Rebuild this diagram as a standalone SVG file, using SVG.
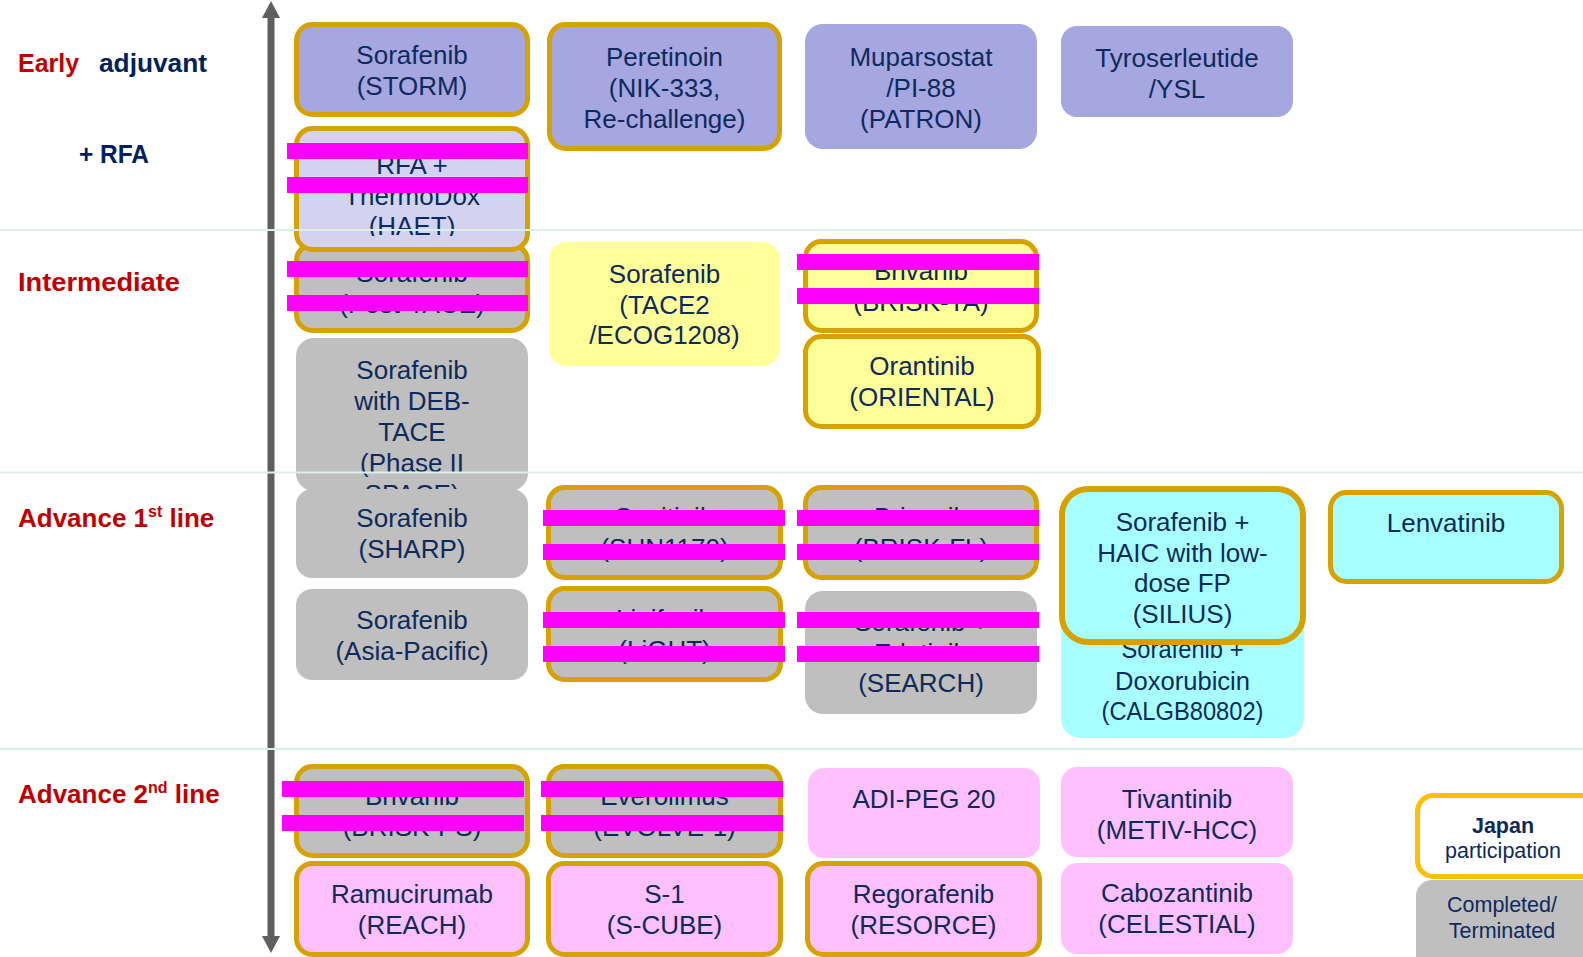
<svg xmlns="http://www.w3.org/2000/svg" width="1583" height="957" viewBox="0 0 1583 957">
<style>
.t{font-family:"Liberation Sans",Arial,sans-serif;font-size:26px;fill:#0e2a5c;text-anchor:middle}
.lab{font-family:"Liberation Sans",Arial,sans-serif;font-size:26px;font-weight:bold}
.red{fill:#c00000}
.navy{fill:#002060}
.b{stroke:#d6a200;stroke-width:5}
.lav{fill:#a6a6e0}
.llav{fill:#d3d3f1}
.gray{fill:#bfbfbf}
.yel{fill:#ffff99}
.cyan{fill:#a8ffff}
.pink{fill:#ffc0ff}
.bar{fill:#ff00ff}
.sep{stroke:#daeeee;stroke-width:2}
.leg{font-family:"Liberation Sans",Arial,sans-serif;font-size:21.5px;fill:#0e2a5c;text-anchor:middle}
</style>
<defs>
<marker id="ah" markerUnits="userSpaceOnUse" markerWidth="17" markerHeight="18" refX="2" refY="9" orient="auto-start-reverse">
<path d="M0,0 L17,9 L0,18 z" fill="#5f5f5f"/>
</marker>
<clipPath id="debclip"><rect x="296" y="338" width="232" height="151"/></clipPath>
<clipPath id="haetclip"><rect x="294" y="126" width="236" height="110"/></clipPath>
</defs>
<rect width="1583" height="957" fill="#ffffff"/>

<g id="labels">
<text class="lab red" x="18" y="72" textLength="61" lengthAdjust="spacingAndGlyphs">Early</text>
<text class="lab navy" x="99" y="72" textLength="108" lengthAdjust="spacingAndGlyphs">adjuvant</text>
<text class="lab navy" x="79" y="163" textLength="70" lengthAdjust="spacingAndGlyphs">+ RFA</text>
<text class="lab red" x="18" y="291" textLength="162" lengthAdjust="spacingAndGlyphs">Intermediate</text>
<text class="lab red" x="18" y="527">Advance 1<tspan font-size="16" dy="-10">st</tspan><tspan dy="10"> line</tspan></text>
<text class="lab red" x="18" y="803">Advance 2<tspan font-size="16" dy="-10">nd</tspan><tspan dy="10"> line</tspan></text>
</g>

<g id="storm"><rect class="lav b" x="296.5" y="24.5" width="231" height="90" rx="16"/>
<text class="t" x="412" y="64">Sorafenib</text><text class="t" x="412" y="95">(STORM)</text></g>

<g id="peretinoin"><rect class="lav b" x="549.5" y="24.5" width="230" height="124" rx="16"/>
<text class="t" x="664.5" y="66">Peretinoin</text><text class="t" x="664.5" y="97">(NIK-333,</text><text class="t" x="664.5" y="127.5">Re-challenge)</text></g>

<g id="muparsostat"><rect class="lav" x="805" y="24" width="232" height="125" rx="18"/>
<text class="t" x="921" y="66">Muparsostat</text><text class="t" x="921" y="97">/PI-88</text><text class="t" x="921" y="127.5">(PATRON)</text></g>

<g id="tyroserleutide"><rect class="lav" x="1061" y="26" width="232" height="91" rx="16"/>
<text class="t" x="1177" y="67">Tyroserleutide</text><text class="t" x="1177" y="97.5">/YSL</text></g>

<g id="posttace"><rect class="gray b" x="296.5" y="244.5" width="231" height="86" rx="16"/>
<text class="t" x="412" y="282">Sorafenib</text><text class="t" x="412" y="313">(Post-TACE)</text></g>

<g id="haet"><rect class="llav b" x="296.5" y="128.5" width="231" height="121" rx="16"/>
<g clip-path="url(#haetclip)"><text class="t" x="412" y="174">RFA +</text><text class="t" x="412" y="204.5">ThermoDox</text><text class="t" x="412" y="235">(HAET)</text></g></g>

<g id="tace2"><rect class="yel" x="549" y="242" width="231" height="124" rx="18"/>
<text class="t" x="664.5" y="283">Sorafenib</text><text class="t" x="664.5" y="313.5">(TACE2</text><text class="t" x="664.5" y="344">/ECOG1208)</text></g>

<g id="brisk-ta"><rect class="yel b" x="805.5" y="241.5" width="231" height="89" rx="16"/>
<text class="t" x="921" y="280">Brivanib</text><text class="t" x="921" y="311">(BRISK-TA)</text></g>

<g id="oriental"><rect class="yel b" x="805.5" y="336.5" width="233" height="90" rx="16"/>
<text class="t" x="922" y="375">Orantinib</text><text class="t" x="922" y="406">(ORIENTAL)</text></g>

<g id="debtace"><rect class="gray" x="296" y="338" width="232" height="153" rx="18"/>
<g clip-path="url(#debclip)"><text class="t" x="412" y="379">Sorafenib</text><text class="t" x="412" y="410">with DEB-</text><text class="t" x="412" y="441">TACE</text><text class="t" x="412" y="472">(Phase II</text><text class="t" x="412" y="503">SPACE)</text></g></g>

<g id="sharp"><rect class="gray" x="296" y="489" width="232" height="89" rx="16"/>
<text class="t" x="412" y="527">Sorafenib</text><text class="t" x="412" y="558">(SHARP)</text></g>

<g id="asiapacific"><rect class="gray" x="296" y="589" width="232" height="91" rx="16"/>
<text class="t" x="412" y="628.5">Sorafenib</text><text class="t" x="412" y="659.5">(Asia-Pacific)</text></g>

<g id="sun1170"><rect class="gray b" x="548.5" y="487.5" width="232" height="90" rx="16"/>
<text class="t" x="664.5" y="526">Sunitinib</text><text class="t" x="664.5" y="557">(SUN1170)</text></g>

<g id="light"><rect class="gray b" x="548.5" y="588.5" width="232" height="91" rx="16"/>
<text class="t" x="664.5" y="627.5">Linifanib</text><text class="t" x="664.5" y="658.5">(LiGHT)</text></g>

<g id="brisk-fl"><rect class="gray b" x="805.5" y="487.5" width="231" height="90" rx="16"/>
<text class="t" x="921" y="526">Brivanib</text><text class="t" x="921" y="557">(BRISK-FL)</text></g>

<g id="search"><rect class="gray" x="805" y="591" width="232" height="123" rx="18"/>
<text class="t" x="921" y="631">Sorafenib +</text><text class="t" x="921" y="661.5">Erlotinib</text><text class="t" x="921" y="692">(SEARCH)</text></g>

<g id="calgb"><rect class="cyan" x="1061" y="600" width="243" height="138" rx="20"/>
<text class="t" x="1182.5" y="658" textLength="122" lengthAdjust="spacingAndGlyphs">Sorafenib +</text><text class="t" x="1182.5" y="689.5" textLength="135" lengthAdjust="spacingAndGlyphs">Doxorubicin</text><text class="t" x="1182.5" y="720" textLength="162" lengthAdjust="spacingAndGlyphs">(CALGB80802)</text></g>

<g id="silius"><rect class="cyan" x="1062" y="489" width="241" height="153" rx="26" stroke="#d6a200" stroke-width="6"/>
<text class="t" x="1182.5" y="531">Sorafenib +</text><text class="t" x="1182.5" y="561.5">HAIC with low-</text><text class="t" x="1182.5" y="592">dose FP</text><text class="t" x="1182.5" y="622.5">(SILIUS)</text></g>

<g id="lenvatinib"><rect class="cyan b" x="1330.5" y="492.5" width="231" height="89" rx="16"/>
<text class="t" x="1446" y="532">Lenvatinib</text></g>

<g id="brisk-ps"><rect class="gray b" x="296.5" y="766.5" width="231" height="89" rx="16"/>
<text class="t" x="412" y="805">Brivanib</text><text class="t" x="412" y="835.5">(BRISK-PS)</text></g>

<g id="evolve1"><rect class="gray b" x="548.5" y="766.5" width="232" height="89" rx="16"/>
<text class="t" x="664.5" y="805">Everolimus</text><text class="t" x="664.5" y="835.5">(EVOLVE-1)</text></g>

<g id="adipeg"><rect class="pink" x="808" y="768" width="232" height="90" rx="16"/>
<text class="t" x="924" y="808">ADI-PEG 20</text></g>

<g id="tivantinib"><rect class="pink" x="1061" y="767" width="232" height="90" rx="16"/>
<text class="t" x="1177" y="807.5">Tivantinib</text><text class="t" x="1177" y="838.5">(METIV-HCC)</text></g>

<g id="reach"><rect class="pink b" x="296.5" y="863.5" width="231" height="91" rx="16"/>
<text class="t" x="412" y="903">Ramucirumab</text><text class="t" x="412" y="933.5">(REACH)</text></g>

<g id="scube"><rect class="pink b" x="548.5" y="863.5" width="232" height="91" rx="16"/>
<text class="t" x="664.5" y="903">S-1</text><text class="t" x="664.5" y="933.5">(S-CUBE)</text></g>

<g id="resorce"><rect class="pink b" x="807.5" y="863.5" width="232" height="91" rx="16"/>
<text class="t" x="923.5" y="903">Regorafenib</text><text class="t" x="923.5" y="933.5">(RESORCE)</text></g>

<g id="celestial"><rect class="pink" x="1061" y="863" width="232" height="91" rx="16"/>
<text class="t" x="1177" y="902">Cabozantinib</text><text class="t" x="1177" y="933">(CELESTIAL)</text></g>

<g id="legend-japan"><rect x="1417.5" y="795.5" width="180" height="81" rx="16" fill="#ffffff" stroke="#ffc000" stroke-width="5"/>
<text class="leg" x="1503" y="833" font-weight="bold">Japan</text><text class="leg" x="1503" y="858">participation</text></g>

<g id="legend-completed"><rect class="gray" x="1416" y="880" width="185" height="95" rx="16"/>
<text class="leg" x="1502" y="912">Completed/</text><text class="leg" x="1502" y="938">Terminated</text></g>

<g id="connectors">
<line x1="271" y1="16" x2="271" y2="938" stroke="#5f5f5f" stroke-width="7" marker-start="url(#ah)" marker-end="url(#ah)"/>
</g>

<g id="separators">
<line class="sep" x1="0" y1="230" x2="1583" y2="230"/>
<line class="sep" x1="0" y1="472.5" x2="1583" y2="472.5"/>
<line class="sep" x1="0" y1="749" x2="1583" y2="749"/>
</g>

<g id="redactions">
<rect class="bar" x="287" y="143" width="241" height="16"/>
<rect class="bar" x="287" y="177" width="241" height="16"/>
<rect class="bar" x="287" y="261" width="241" height="16"/>
<rect class="bar" x="287" y="295" width="241" height="16"/>
<rect class="bar" x="797" y="254" width="242" height="16"/>
<rect class="bar" x="797" y="288" width="242" height="16"/>
<rect class="bar" x="543" y="510" width="242" height="16"/>
<rect class="bar" x="543" y="544" width="242" height="16"/>
<rect class="bar" x="543" y="612" width="242" height="16"/>
<rect class="bar" x="543" y="646" width="242" height="16"/>
<rect class="bar" x="797" y="510" width="242" height="16"/>
<rect class="bar" x="797" y="544" width="242" height="16"/>
<rect class="bar" x="797" y="612" width="242" height="16"/>
<rect class="bar" x="797" y="646" width="242" height="16"/>
<rect class="bar" x="282" y="781" width="242" height="16"/>
<rect class="bar" x="282" y="815" width="242" height="16"/>
<rect class="bar" x="541" y="781" width="242" height="16"/>
<rect class="bar" x="541" y="815" width="242" height="16"/>
</g>
</svg>
